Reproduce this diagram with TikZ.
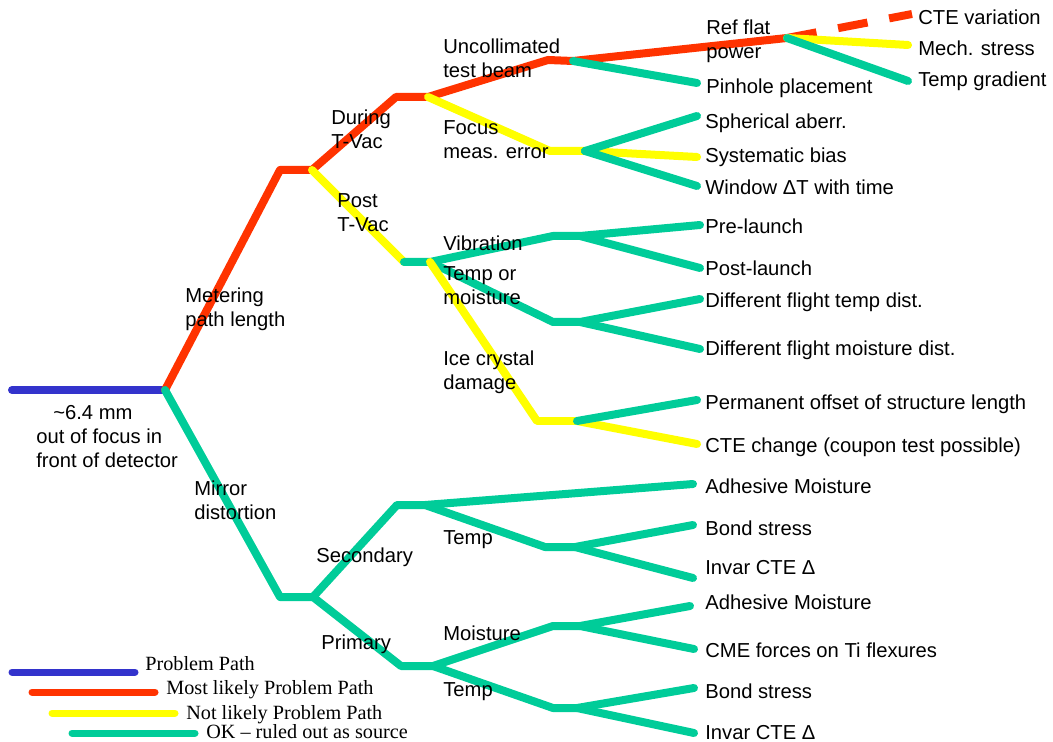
\documentclass[tikz,border=0pt]{standalone}
\usepackage{fontspec}
\setmainfont{Liberation Sans}
\newfontfamily\legendfont{Liberation Serif}
\definecolor{pblue}{RGB}{51,51,204}
\definecolor{pred}{RGB}{255,51,0}
\definecolor{pyellow}{RGB}{255,255,0}
\definecolor{pgreen}{RGB}{0,204,153}
\begin{document}
\begin{tikzpicture}[x=0.02cm,y=-0.02cm,
  branch/.style={line width=0.16cm, line cap=round, line join=round},
  prob/.style={branch, draw=pblue},
  likely/.style={branch, draw=pred},
  unlikely/.style={branch, draw=pyellow},
  ok/.style={branch, draw=pgreen},
  lbl/.style={anchor=north west, inner sep=0pt, align=left, font=\fontsize{11.5}{13.6}\selectfont},
  leg/.style={anchor=north west, inner sep=0pt, font=\legendfont\fontsize{11.5}{13.6}\selectfont},
  legline/.style={line width=0.14cm, line cap=round}
]
\useasboundingbox (0,0) rectangle (1053,742);

% junction coordinates
\coordinate (s0) at (12,390);
\coordinate (r) at (165,390);
\coordinate (m1) at (280,170);
\coordinate (m2) at (312,170);
\coordinate (d1) at (396,97);
\coordinate (d2) at (428,97);
\coordinate (u1) at (548,60);
\coordinate (u2) at (573,61);
\coordinate (rf) at (787,38);
\coordinate (cte) at (912,14);
\coordinate (mech) at (908,45);
\coordinate (tgrad) at (908,81);
\coordinate (pin) at (697,83);
\coordinate (f1) at (550,151);
\coordinate (f2) at (585,151);
\coordinate (sph) at (697,116);
\coordinate (sys) at (697,157);
\coordinate (win) at (697,186);
\coordinate (p1) at (404,262);
\coordinate (p2) at (430,262);
\coordinate (v1) at (553,236);
\coordinate (v2) at (580,236);
\coordinate (pre) at (700,225);
\coordinate (post) at (700,268);
\coordinate (t1) at (553,322);
\coordinate (t2) at (580,322);
\coordinate (dft) at (700,299);
\coordinate (dfm) at (700,349);
\coordinate (i1) at (537,421);
\coordinate (i2) at (577,421);
\coordinate (perm) at (697,400);
\coordinate (ctec) at (697,444);
\coordinate (mi1) at (280,597);
\coordinate (mi2) at (313,597);
\coordinate (s1) at (397,505);
\coordinate (s2) at (425,505);
\coordinate (adh1) at (693,484);
\coordinate (st1) at (545,547);
\coordinate (st2) at (575,547);
\coordinate (bond1) at (693,525);
\coordinate (inv1) at (693,578);
\coordinate (pr1) at (401,666);
\coordinate (pr2) at (433,666);
\coordinate (pm1) at (553,626);
\coordinate (pm2) at (580,626);
\coordinate (adh2) at (690,606);
\coordinate (cme) at (694,649);
\coordinate (pt1) at (553,708);
\coordinate (pt2) at (577,708);
\coordinate (bond2) at (694,688);
\coordinate (inv2) at (694,733);

% branches
\draw[prob] (s0) -- (r);
\draw[likely] (r) -- (m1) -- (m2) -- (d1) -- (d2) -- (u1) -- (u2) -- (rf);
\draw[likely, line cap=butt, dash pattern=on 0.6cm off 0.44cm] (rf) -- (cte);
\draw[unlikely] (m2) -- (p1);
\draw[unlikely] (d2) -- (f1) -- (f2) -- (sys);
\draw[ok] (f2) -- (sph);
\draw[ok] (f2) -- (win);
\draw[ok] (u2) -- (pin);
\draw[unlikely] (rf) -- (mech);
\draw[ok] (rf) -- (tgrad);
\draw[ok] (p1) -- (p2) -- (v1) -- (v2) -- (pre);
\draw[ok] (v2) -- (post);
\draw[ok] (p2) -- (t1) -- (t2) -- (dft);
\draw[ok] (t2) -- (dfm);
\draw[unlikely] (p2) -- (i1) -- (i2) -- (ctec);
\draw[ok] (i2) -- (perm);
\draw[ok] (r) -- (mi1) -- (mi2) -- (s1) -- (s2) -- (adh1);
\draw[ok] (s2) -- (st1) -- (st2) -- (bond1);
\draw[ok] (st2) -- (inv1);
\draw[ok] (mi2) -- (pr1) -- (pr2) -- (pm1) -- (pm2) -- (adh2);
\draw[ok] (pm2) -- (cme);
\draw[ok] (pr2) -- (pt1) -- (pt2) -- (bond2);
\draw[ok] (pt2) -- (inv2);

% labels
\node[lbl] (lroot) at (36,405) {\hspace{0.34cm}\textasciitilde6.4 mm\\out of focus in\\front of detector};
\node[lbl] (lmeter) at (185,288) {Metering\\path length};
\node[lbl] (lduring) at (331,110) {During\\T-Vac};
\node[lbl] (lpost) at (337,193) {Post\\T-Vac};
\node[lbl] (lunc) at (443,39) {Uncollimated\\test beam};
\node[lbl] (lfocus) at (443,120) {Focus\\meas. error};
\node[lbl] (lref) at (706,20) {Ref flat\\power};
\node[lbl] (lcte) at (918,10) {CTE variation};
\node[lbl] (lmech) at (918,41) {Mech. stress};
\node[lbl] (ltgrad) at (918,72) {Temp gradient};
\node[lbl] (lpin) at (706,79) {Pinhole placement};
\node[lbl] (lsph) at (705,114) {Spherical aberr.};
\node[lbl] (lsys) at (705,148) {Systematic bias};
\node[lbl] (lwin) at (705,180) {Window ΔT with time};
\node[lbl] (lvib) at (443,236) {Vibration};
\node[lbl] (ltm) at (443,266) {Temp or\\moisture};
\node[lbl] (lice) at (443,351) {Ice crystal\\damage};
\node[lbl] (lpre) at (705,219) {Pre-launch};
\node[lbl] (lpostl) at (705,261) {Post-launch};
\node[lbl] (ldft) at (705,293) {Different flight temp dist.};
\node[lbl] (ldfm) at (705,341) {Different flight moisture dist.};
\node[lbl] (lperm) at (705,395) {Permanent offset of structure length};
\node[lbl] (lctec) at (705,438) {CTE change (coupon test possible)};
\node[lbl] (lmirror) at (194,481) {Mirror\\distortion};
\node[lbl] (lsec) at (316,548) {Secondary};
\node[lbl] (lprim) at (321,635) {Primary};
\node[lbl] (ltemp1) at (443,530) {Temp};
\node[lbl] (lmoist) at (443,626) {Moisture};
\node[lbl] (ltemp2) at (443,682) {Temp};
\node[lbl] (ladh1) at (705,479) {Adhesive Moisture};
\node[lbl] (lbond1) at (705,521) {Bond stress};
\node[lbl] (linv1) at (705,560) {Invar CTE Δ};
\node[lbl] (ladh2) at (705,595) {Adhesive Moisture};
\node[lbl] (lcme) at (705,643) {CME forces on Ti flexures};
\node[lbl] (lbond2) at (705,684) {Bond stress};
\node[lbl] (linv2) at (705,725) {Invar CTE Δ};

% legend
\coordinate (lg1a) at (12,672);  \coordinate (lg1b) at (135,672);
\coordinate (lg2a) at (32,692);  \coordinate (lg2b) at (155,692);
\coordinate (lg3a) at (52,713);  \coordinate (lg3b) at (175,713);
\coordinate (lg4a) at (72,733);  \coordinate (lg4b) at (195,733);
\draw[legline, draw=pblue] (lg1a) -- (lg1b);
\draw[legline, draw=pred] (lg2a) -- (lg2b);
\draw[legline, draw=pyellow] (lg3a) -- (lg3b);
\draw[legline, draw=pgreen] (lg4a) -- (lg4b);
\node[leg] (leg1) at (145,656) {Problem Path};
\node[leg] (leg2) at (166,680) {Most likely Problem Path};
\node[leg] (leg3) at (186,705) {Not likely Problem Path};
\node[leg] (leg4) at (206,724) {OK – ruled out as source};
\end{tikzpicture}
\end{document}
